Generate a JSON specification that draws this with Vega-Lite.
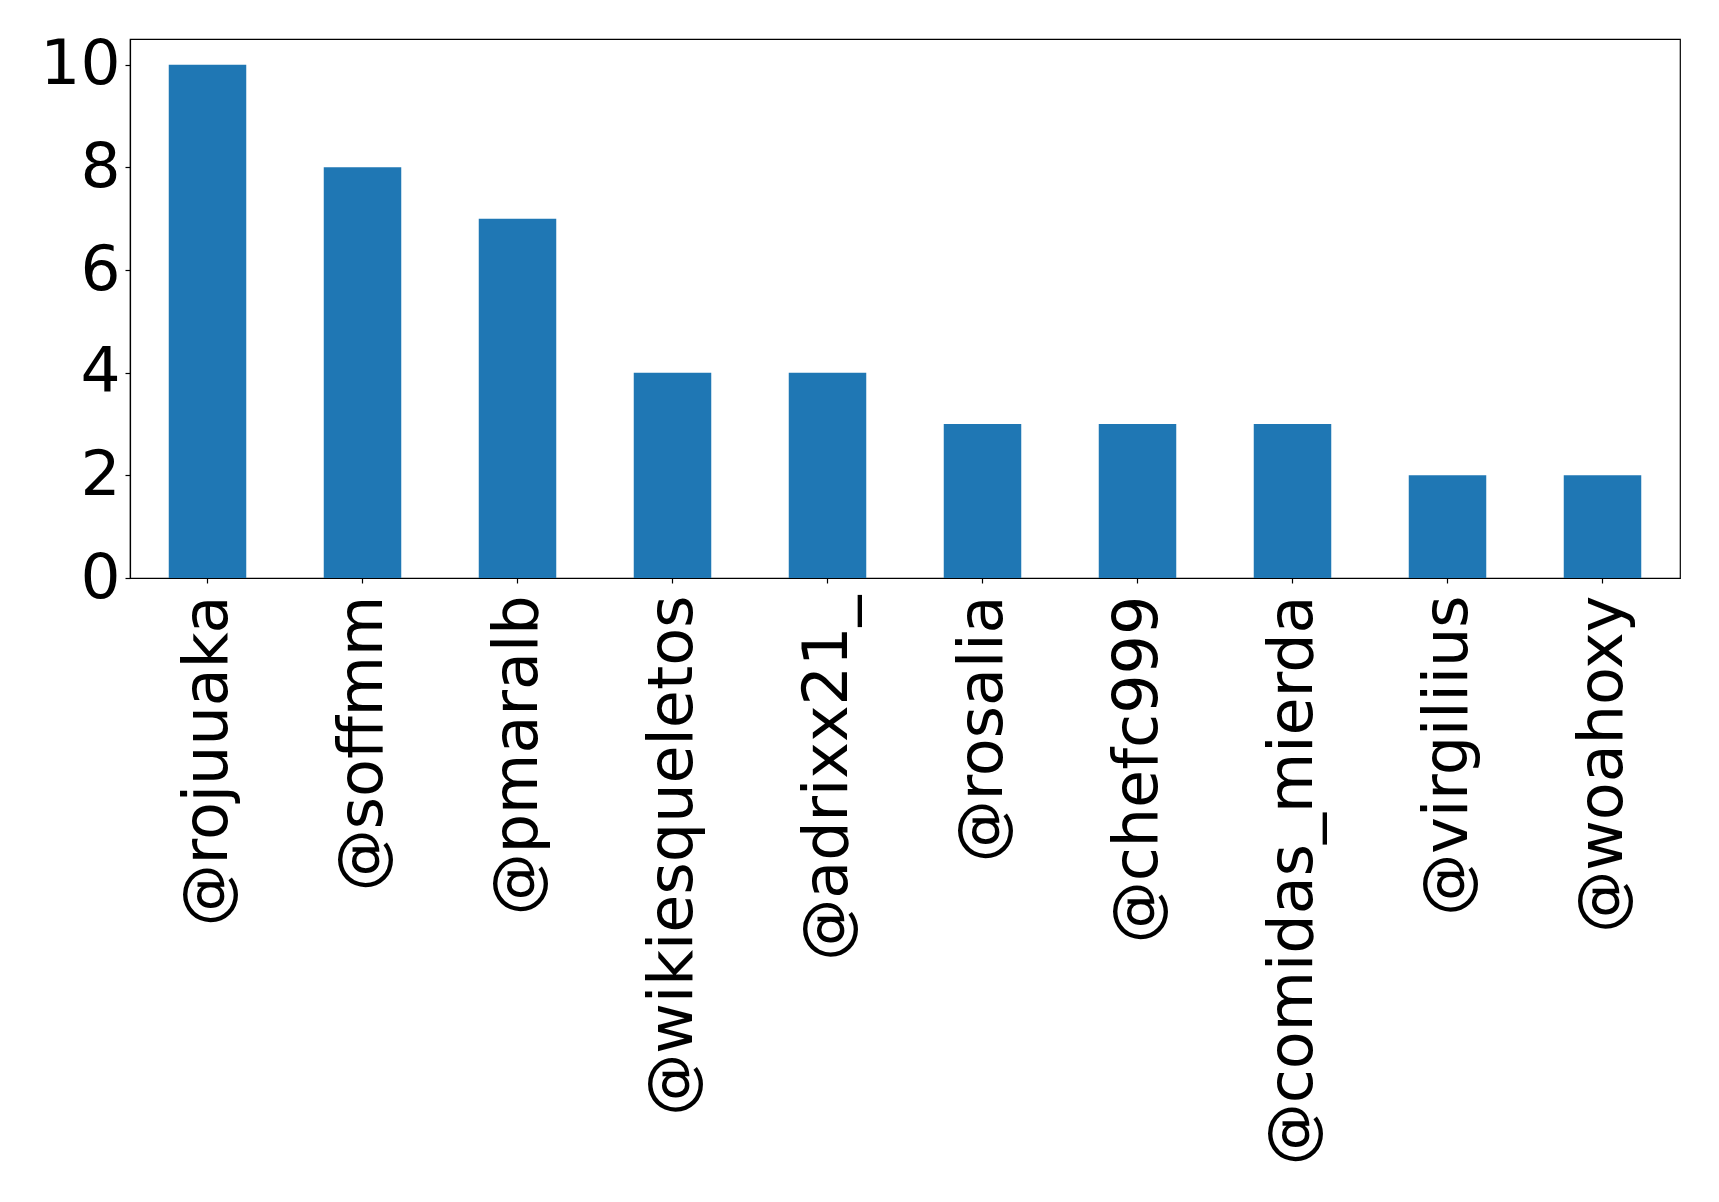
{
  "$schema": "https://vega.github.io/schema/vega-lite/v6.json",
  "autosize": {"type": "none"},
  "padding": {"left": 130, "top": 39, "right": 39, "bottom": 624},
  "width": 1550,
  "height": 539,
  "background": "white",
  "data": {
    "values": [
      {"user": "@rojuuaka", "count": 10},
      {"user": "@soffmm", "count": 8},
      {"user": "@pmaralb", "count": 7},
      {"user": "@wikiesqueletos", "count": 4},
      {"user": "@adrixx21_", "count": 4},
      {"user": "@rosalia", "count": 3},
      {"user": "@chefc999", "count": 3},
      {"user": "@comidas_mierda", "count": 3},
      {"user": "@virgiliius", "count": 2},
      {"user": "@woahoxy", "count": 2}
    ]
  },
  "mark": {"type": "bar", "color": "#1f77b4"},
  "encoding": {
    "x": {
      "field": "user",
      "type": "nominal",
      "sort": null,
      "scale": {"paddingInner": 0.5, "paddingOuter": 0.25},
      "axis": {
        "title": null,
        "labelAngle": -90,
        "labelAlign": "right",
        "labelBaseline": "middle",
        "labelFont": "DejaVu Sans",
        "labelFontSize": 62,
        "labelColor": "black",
        "labelPadding": 12,
        "tickSize": 5,
        "tickColor": "black",
        "domainColor": "black",
        "labelOverlap": false,
        "labelLimit": 0
      }
    },
    "y": {
      "field": "count",
      "type": "quantitative",
      "scale": {"domain": [0, 10.5], "nice": false},
      "axis": {
        "title": null,
        "values": [0, 2, 4, 6, 8, 10],
        "grid": false,
        "labelFont": "DejaVu Sans",
        "labelFontSize": 63,
        "labelColor": "black",
        "labelPadding": 5,
        "tickSize": 5,
        "tickColor": "black",
        "domainColor": "black",
        "labelOverlap": false
      }
    }
  },
  "config": {
    "view": {"stroke": "black", "strokeWidth": 1.2},
    "axis": {"domainWidth": 1.2, "tickWidth": 1.2}
  }
}
